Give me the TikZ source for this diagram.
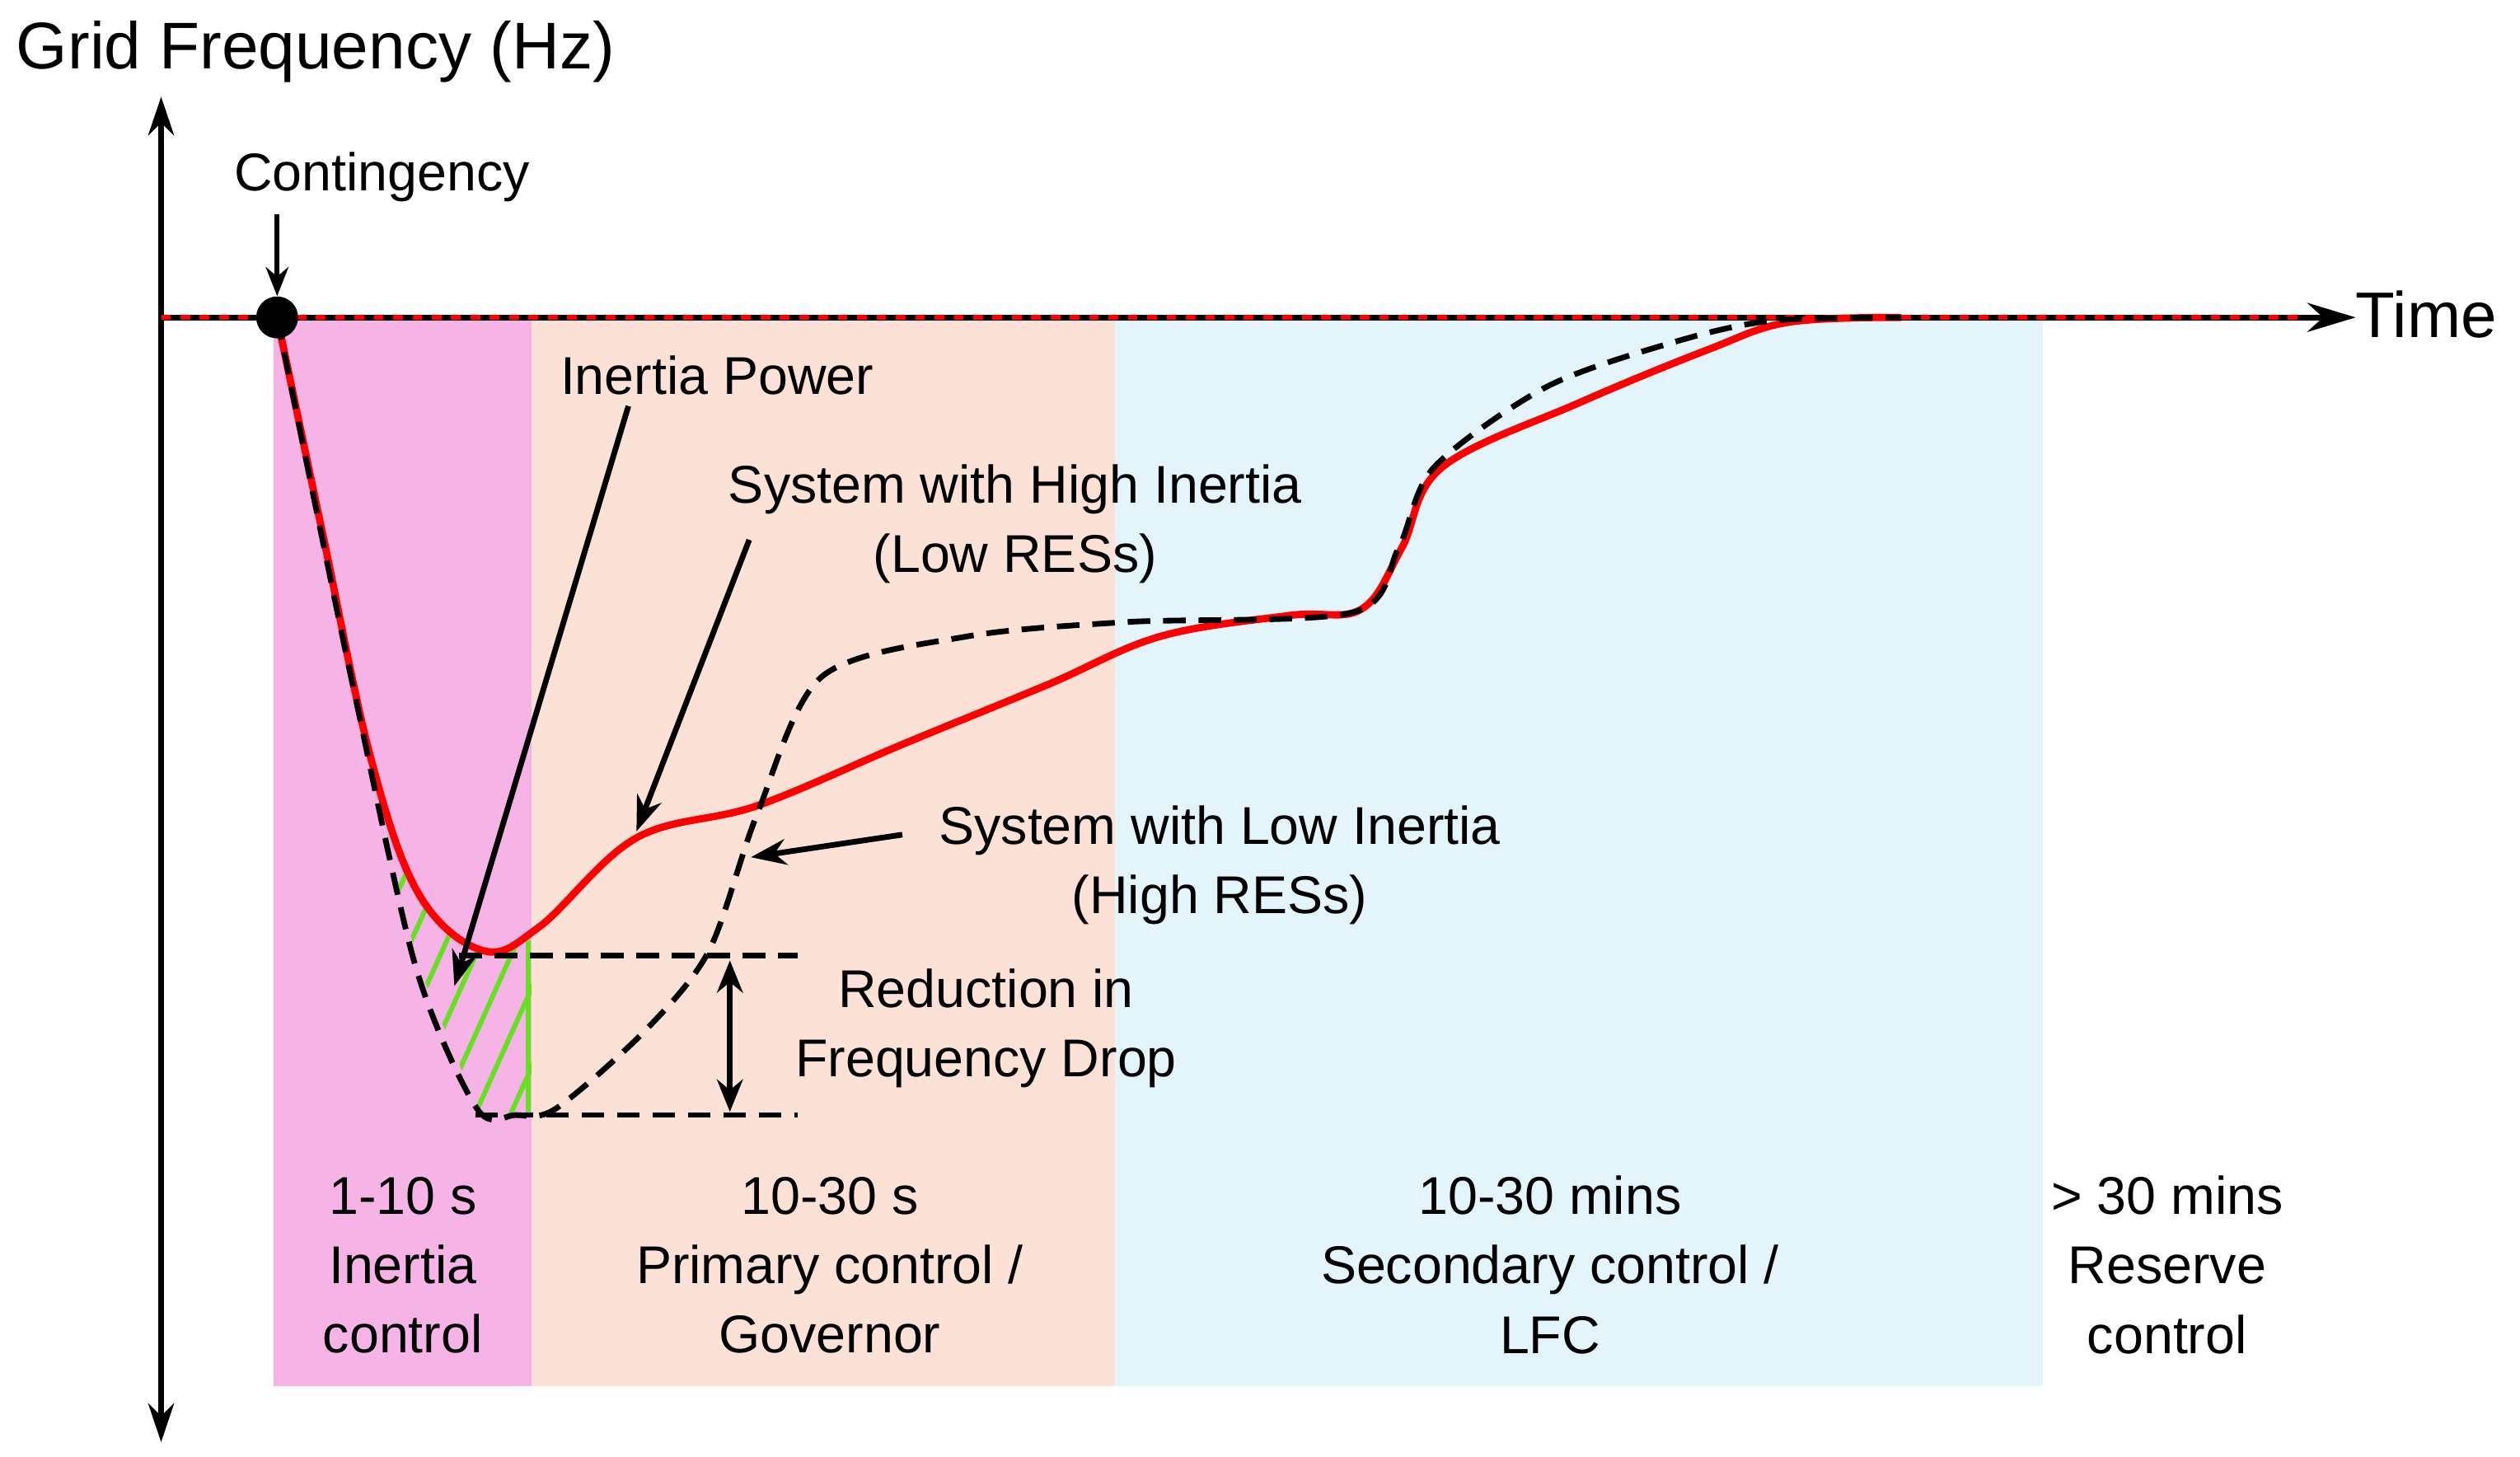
\documentclass[tikz,border=0pt]{standalone}
\usepackage{fontspec}
\setmainfont{Liberation Sans}
\usetikzlibrary{arrows.meta}
\definecolor{magreg}{HTML}{F5B3E6}
\definecolor{peachreg}{HTML}{FCE1D7}
\definecolor{bluereg}{HTML}{E3F4FB}
\definecolor{hatch}{HTML}{66E020}
\tikzset{
  lbl/.style={font=\fontsize{33}{43}\selectfont, align=center, inner sep=0pt},
  ptr/.style={line width=3.5pt, -{Stealth[length=22pt,width=16pt]}},
  dsh/.style={line width=3.5pt, dash pattern=on 14pt off 8pt},
}
\begin{document}
\begin{tikzpicture}[x=1pt,y=-1pt]
\useasboundingbox (0,0) rectangle (1564,904);
\fill[magreg] (170,197) rectangle (330,860);
\fill[peachreg] (330,197) rectangle (692,860);
\fill[bluereg] (692,197) rectangle (1268,860);
% hatch
\begin{scope}
\clip (222,470) -- (260,560) -- (300,592) -- (330,583) -- (330,692) -- (298,692) -- (262,605) -- (222,470) -- cycle;
\foreach \x in {150,172,...,360} \draw[hatch, line width=3pt] (\x,720) -- (\x+90,520);
\draw[hatch, line width=3pt] (328,580) -- (328,692);
\end{scope}
% axes
\coordinate (yb) at (100,895); \coordinate (yt) at (100,60);
\draw[line width=3.5pt, {Stealth[length=24pt,width=16pt]}-{Stealth[length=24pt,width=16pt]}] (yb) -- (yt);
\coordinate (x0) at (100,197); \coordinate (x1) at (1462,197);
\draw[line width=3.5pt, -{Stealth[length=30pt,width=18pt]}] (x0) -- (x1);
\draw[red, line width=3pt, dash pattern=on 6pt off 6pt] (100,197) -- (1430,197);
\node[lbl, anchor=west, font=\fontsize{40}{46}\selectfont] (time) at (1462,195) {Time};
\node[lbl, anchor=west, font=\fontsize{41}{48}\selectfont] (ylab) at (10,32) {Grid Frequency (Hz)};
% curves
\draw[red, line width=4.5pt] plot[smooth, tension=0.6] coordinates {(172,197) (200,330) (230,470) (260,555) (300,590) (335,575) (395,520) (470,500) (560,462) (650,425) (720,395) (800,382) (845,378) (870,340) (895,290) (980,250) (1060,217) (1110,200) (1180,197)};
\draw[black, dsh] plot[smooth, tension=0.5] coordinates {(172,197) (195,310) (220,430) (258,600) (296,688) (320,692) (345,688) (400,640) (440,590) (470,505) (510,420) (600,395) (700,386) (840,380) (868,340) (890,290) (960,240) (1040,212) (1100,199) (1180,197)};
% dot
\node[circle, fill=black, minimum size=26pt, inner sep=0pt] (dot) at (172,197) {};
\node[lbl] (cont) at (237,110) {Contingency};
\coordinate (ca) at (172,133);
\draw[line width=3pt, -{Stealth[length=18pt,width=14pt]}] (ca) -- (dot);
% reduction lines
\coordinate (r1a) at (285,593); \coordinate (r1b) at (495,593);
\coordinate (r2a) at (295,692); \coordinate (r2b) at (495,692);
\draw[dsh] (r1a) -- (r1b);
\draw[dsh] (r2a) -- (r2b);
\coordinate (da) at (453,596); \coordinate (db) at (453,690);
\draw[line width=3.5pt, {Stealth[length=20pt,width=16pt]}-{Stealth[length=20pt,width=16pt]}] (da) -- (db);
\node[lbl] (red) at (612,638) {Reduction in\\Frequency Drop};
% labels & pointers
\node[lbl] (ip) at (445,233) {Inertia Power};
\coordinate (ipt) at (390,252); \coordinate (iph) at (282,612);
\draw[ptr] (ipt) -- (iph);
\node[lbl] (hi) at (630,325) {System with High Inertia\\(Low RESs)};
\coordinate (hit) at (465,335); \coordinate (hih) at (395,516);
\draw[ptr] (hit) -- (hih);
\node[lbl] (lo) at (757,537) {System with Low Inertia\\(High RESs)};
\coordinate (lot) at (560,518); \coordinate (loh) at (466,532);
\draw[ptr] (lot) -- (loh);
% bottom
\node[lbl] (b1) at (250,785) {1-10 s\\Inertia\\control};
\node[lbl] (b2) at (515,785) {10-30 s\\Primary control /\\Governor};
\node[lbl] (b3) at (962,785) {10-30 mins\\Secondary control /\\LFC};
\node[lbl] (b4) at (1345,785) {> 30 mins\\Reserve\\control};
\end{tikzpicture}
\end{document}
